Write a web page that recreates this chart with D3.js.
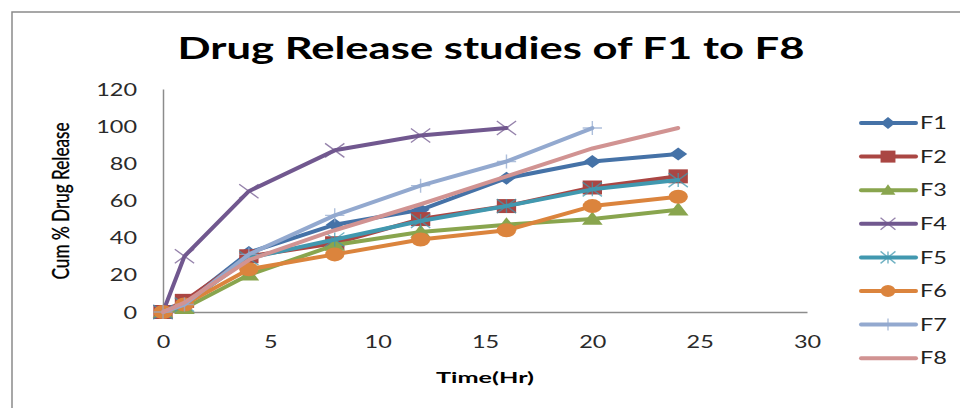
<!DOCTYPE html>
<html>
<head>
<meta charset="utf-8">
<script src="https://cdn.jsdelivr.net/npm/d3@7"></script>
<style>
  html, body { margin: 0; padding: 0; background: #fff; }
  svg { display: block; }
</style>
</head>
<body>
<svg id="chart" width="960" height="408"></svg>
<script>
// Sampling times (hours)
const time = [0, 1, 4, 8, 12, 16, 20, 24];

// Cumulative % drug released for each formulation
const F1 = [0, 5, 32, 47, 55, 72, 81, 85];
const F2 = [0, 6, 30, 37, 50, 57, 67, 73];
const F3 = [0, 2, 20, 36, 43, 47, 50, 55];
const F4 = [0, 30, 65, 87, 95, 99];
const F5 = [0, 4, 29, 39, 49, 57, 66, 71];
const F6 = [0, 4, 23, 31, 39, 44, 57, 62];
const F7 = [0, 4, 31, 52, 68, 81, 99];
const F8 = [0, 5, 28, 44, 58, 73, 88, 99];

const seriesNames = ["F1", "F2", "F3", "F4", "F5", "F6", "F7", "F8"];
const seriesValues = [F1, F2, F3, F4, F5, F6, F7, F8];
const seriesColors = ["#4572A7", "#AA4643", "#89A54E", "#71588F", "#4198AF", "#DB843D", "#93A9CF", "#D19392"];
const seriesMarkers = ["diamond", "square", "triangle", "x", "asterisk", "circle", "plus", "none"];

const xTicks = [0, 5, 10, 15, 20, 25, 30];
const yTicks = [0, 20, 40, 60, 80, 100, 120];

const titleText = "Drug Release studies of F1 to F8";
const xTitle = "Time(Hr)";
const yTitle = "Cum % Drug Release";

// ---- layout ----
const svg = d3.select("#chart");
const SX = 1.38;            // horizontal stretch applied to text and markers
const FONT = "Lato, 'Open Sans', sans-serif";

const x = d3.scaleLinear().domain([0, 30]).range([163, 807]);
const y = d3.scaleLinear().domain([0, 120]).range([312, 89]);

// widen a text node horizontally by a factor, keeping its anchor
function widen(sel, factor, target) {
  sel.each(function () {
    const w = this.getComputedTextLength();
    this.setAttribute("textLength", target ? target : w * factor);
    this.setAttribute("lengthAdjust", "spacingAndGlyphs");
  });
}

// outer frame
svg.append("rect")
  .attr("x", 12).attr("y", 12)
  .attr("width", 1100).attr("height", 600)
  .attr("fill", "none")
  .attr("stroke", "#8a8a8a")
  .attr("stroke-width", 1.5);

// title
svg.append("text")
  .attr("x", 491).attr("y", 59)
  .attr("text-anchor", "middle")
  .attr("font-family", FONT)
  .attr("font-weight", "bold")
  .attr("font-size", 31)
  .attr("fill", "#000")
  .text(titleText)
  .call(widen, 1, 627);

// axes
const yAxis = svg.append("g")
  .attr("transform", `translate(${x(0)},0)`)
  .call(d3.axisLeft(y).tickValues(yTicks).tickSize(0).tickPadding(26).tickFormat(d3.format("d")));
const xAxis = svg.append("g")
  .attr("transform", `translate(0,${y(0)})`)
  .call(d3.axisBottom(x).tickValues(xTicks).tickSize(0).tickPadding(22).tickFormat(d3.format("d")));

[yAxis, xAxis].forEach(g => {
  g.select(".domain").attr("stroke", "#8c8c8c").attr("stroke-width", 1.5);
  g.selectAll("text")
    .attr("font-family", FONT)
    .attr("font-size", 17)
    .attr("fill", "#2a2a2a");
});
yAxis.selectAll("text").attr("dy", "0.36em");
xAxis.selectAll("text").attr("dy", "0.36em").attr("y", 30);
yAxis.selectAll("text").call(widen, SX);
xAxis.selectAll("text").call(widen, SX);

// axis titles
svg.append("text")
  .attr("x", 485).attr("y", 383)
  .attr("text-anchor", "middle")
  .attr("font-family", FONT)
  .attr("font-weight", "bold")
  .attr("font-size", 15)
  .attr("fill", "#000")
  .text(xTitle)
  .call(widen, 1, 98);

svg.append("text")
  .attr("transform", "translate(69,201) rotate(-90) scale(1,1.45)")
  .attr("text-anchor", "middle")
  .attr("font-family", FONT)
  .attr("font-size", 16)
  .attr("stroke", "#000")
  .attr("stroke-width", 0.25)
  .attr("fill", "#000")
  .text(yTitle)
  .call(widen, 1, 157);

// ---- markers ----
function markerPath(type, h) {
  switch (type) {
    case "diamond":  return `M0,${-h}L${h},0L0,${h}L${-h},0Z`;
    case "square":   return `M${-h},${-h}H${h}V${h}H${-h}Z`;
    case "triangle": return `M0,${-h}L${h},${h * 0.75}L${-h},${h * 0.75}Z`;
    case "x":        return `M${-h},${-h}L${h},${h}M${h},${-h}L${-h},${h}`;
    case "asterisk": return `M${-h},${-h}L${h},${h}M${h},${-h}L${-h},${h}M0,${-h}L0,${h}`;
    case "plus":     return `M${-h},0L${h},0M0,${-h}L0,${h}`;
    default:         return null;
  }
}
function drawMarker(g, type, color, h) {
  if (type === "none") return;
  if (type === "circle") {
    g.append("circle").attr("r", h).attr("fill", color);
    return;
  }
  const stroked = type === "x" || type === "asterisk" || type === "plus";
  g.append("path")
    .attr("d", markerPath(type, h))
    .attr("fill", stroked ? "none" : color)
    .attr("stroke", stroked ? color : "none")
    .attr("stroke-width", stroked ? 1.4 : 0)
    .attr("stroke-opacity", stroked ? 0.75 : 1)
    .attr("vector-effect", "non-scaling-stroke");
}

const line = d3.line().x(d => x(d[0])).y(d => y(d[1]));

const plot = svg.append("g");
seriesNames.forEach((name, i) => {
  const vals = seriesValues[i];
  const pts = vals.map((v, j) => [time[j], v]);
  const g = plot.append("g");
  g.append("path")
    .datum(pts)
    .attr("d", line)
    .attr("fill", "none")
    .attr("stroke", seriesColors[i])
    .attr("stroke-width", 4)
    .attr("stroke-linejoin", "round")
    .attr("stroke-linecap", "round");
  const size = seriesMarkers[i] === "triangle" ? 7.5 : (seriesMarkers[i] === "diamond" ? 6.5 : 7);
  pts.forEach(p => {
    const m = g.append("g")
      .attr("transform", `translate(${x(p[0])},${y(p[1])}) scale(${SX},1)`);
    drawMarker(m, seriesMarkers[i], seriesColors[i], size);
  });
});

// ---- legend ----
const legend = svg.append("g");
seriesNames.forEach((name, i) => {
  const cy = 123 + i * 33.6;
  const row = legend.append("g");
  row.append("line")
    .attr("x1", 861).attr("x2", 916)
    .attr("y1", cy).attr("y2", cy)
    .attr("stroke", seriesColors[i])
    .attr("stroke-width", 4)
    .attr("stroke-linecap", "round");
  const m = row.append("g").attr("transform", `translate(888,${cy}) scale(${SX * 0.9},1)`);
  drawMarker(m, seriesMarkers[i], seriesColors[i], 6);
  row.append("text")
    .attr("x", 920).attr("y", cy)
    .attr("dy", "0.36em")
    .attr("font-family", FONT)
    .attr("font-size", 17)
    .attr("fill", "#222")
    .text(name)
    .call(widen, SX);
});
</script>
</body>
</html>
